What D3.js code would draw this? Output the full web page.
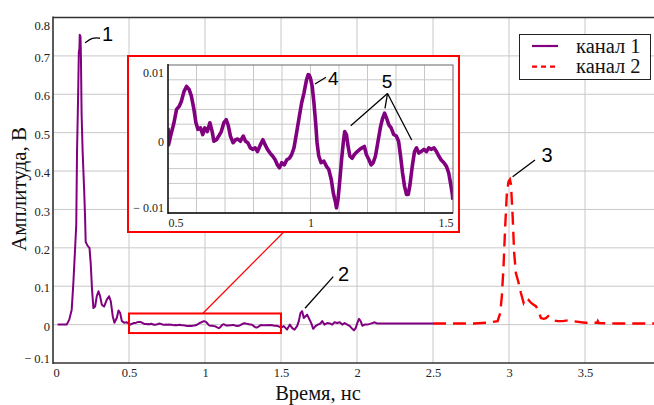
<!DOCTYPE html>
<html><head><meta charset="utf-8">
<script src="https://cdn.jsdelivr.net/npm/d3@7"></script>
<style>body{margin:0;background:#fff}svg{display:block}</style>
</head><body><svg id="c" width="654" height="405"></svg>
<script>
// ---------- data ----------
const xTicks = [0, 0.5, 1, 1.5, 2, 2.5, 3, 3.5];
const xTickLabels = ["0", "0.5", "1", "1.5", "2", "2.5", "3", "3.5"];
const yTicks = [-0.1, 0, 0.1, 0.2, 0.3, 0.4, 0.5, 0.6, 0.7, 0.8];
const yTickLabels = ["\u2212 0.1", "0", "0.1", "0.2", "0.3", "0.4", "0.5", "0.6", "0.7", "0.8"];
const insetXTicks = [0.5, 1, 1.5];
const insetXTickLabels = ["0.5", "1", "1.5"];
const insetYTicks = [-0.01, 0, 0.01];
const insetYTickLabels = ["\u2212 0.01", "0", "0.01"];
const insetXGrid = [0.6, 0.7, 0.8, 0.9, 1.0, 1.1, 1.2, 1.3, 1.4];
const insetYGrid = [-0.008, -0.006, -0.004, -0.002, 0, 0.002, 0.004, 0.006, 0.008];
const seriesNames = ["канал 1", "канал 2"];
const xTitle = "Время, нс";
const yTitle = "Амплитуда, В";

// channel 1 : [time ns, amplitude V]
const ch1 = [
 [0.03,0],[0.09,0],[0.107,0.013],[0.123,0.039],[0.134,0.109],[0.145,0.195],[0.153,0.26],
 [0.158,0.45],[0.165,0.59],[0.17,0.71],[0.174,0.72],[0.176,0.755],[0.181,0.75],[0.184,0.69],
 [0.188,0.55],[0.195,0.45],[0.205,0.35],[0.211,0.28],[0.215,0.215],[0.228,0.205],[0.24,0.2],
 [0.248,0.16],[0.257,0.09],[0.266,0.043],[0.277,0.047],[0.288,0.074],[0.299,0.087],[0.31,0.074],
 [0.321,0.052],[0.336,0.047],[0.354,0.065],[0.369,0.074],[0.38,0.061],[0.393,0.022],[0.404,0.005],
 [0.42,0.018],[0.431,0.037],[0.442,0.03],[0.453,0.009],[0.468,0.005],[0.486,0.006],[0.497,0.003],
 [0.5,0.0015],[0.502,-0.0008],[0.509,0.0004],[0.521,0.0022],[0.53,0.004],[0.539,0.0044],[0.547,0.0051],
 [0.556,0.0064],[0.565,0.0071],[0.574,0.0067],[0.582,0.0058],[0.591,0.004],[0.598,0.0022],[0.605,0.0013],
 [0.614,0.0015],[0.622,0.0006],[0.629,0.0015],[0.638,0.001],[0.647,0.0022],[0.655,0.001],[0.661,-0.0003],
 [0.67,-0.0001],[0.678,0.0004],[0.687,0.001],[0.696,0.0022],[0.704,0.0026],[0.711,0.0019],[0.719,0.0004],
 [0.728,-0.0005],[0.737,-0.0001],[0.745,0],[0.754,-0.0003],[0.764,0.0004],[0.772,-0.0003],[0.78,-0.0005],
 [0.789,-0.0012],[0.798,-0.0014],[0.806,-0.0012],[0.814,-0.0017],[0.824,-0.0008],[0.833,-0.0001],[0.841,-0.0008],
 [0.849,-0.0014],[0.858,-0.0019],[0.867,-0.0023],[0.876,-0.0028],[0.884,-0.0035],[0.891,-0.0039],[0.899,-0.0032],
 [0.908,-0.0035],[0.917,-0.0028],[0.926,-0.0026],[0.934,-0.0021],[0.942,-0.0012],[0.951,0.0008],[0.961,0.0031],
 [0.969,0.0049],[0.977,0.0062],[0.986,0.008],[0.992,0.0087],[0.996,0.0086],[1.0,0.0082],[1.006,0.0071],
 [1.012,0.0049],[1.018,0.0022],[1.023,-0.0005],[1.029,-0.0023],[1.037,-0.0032],[1.047,-0.003],[1.056,-0.0037],
 [1.064,-0.0041],[1.073,-0.0055],[1.08,-0.0073],[1.088,-0.0086],[1.091,-0.0093],[1.097,-0.008],[1.103,-0.0055],
 [1.109,-0.0028],[1.115,-0.0005],[1.12,0.001],[1.126,0.0006],[1.132,-0.001],[1.138,-0.0023],[1.146,-0.0026],
 [1.154,-0.0021],[1.164,-0.0017],[1.173,-0.0014],[1.181,-0.0012],[1.189,-0.001],[1.196,-0.0021],[1.205,-0.0028],
 [1.213,-0.0035],[1.22,-0.0032],[1.228,-0.0023],[1.236,-0.0005],[1.246,0.0017],[1.253,0.0028],[1.26,0.0035],
 [1.267,0.0028],[1.275,0.0019],[1.283,0.0015],[1.292,0.0006],[1.301,0.0004],[1.309,-0.0003],[1.316,-0.0023],
 [1.323,-0.0046],[1.33,-0.0064],[1.337,-0.0075],[1.343,-0.0075],[1.349,-0.0062],[1.357,-0.0037],[1.365,-0.0017],
 [1.372,-0.0012],[1.38,-0.0019],[1.388,-0.0017],[1.398,-0.0014],[1.407,-0.0017],[1.415,-0.0012],[1.423,-0.0014],
 [1.433,-0.0012],[1.442,-0.0017],[1.45,-0.0023],[1.458,-0.0028],[1.468,-0.0032],[1.477,-0.0037],[1.485,-0.0046],
 [1.491,-0.0059],[1.497,-0.0073],[1.5,-0.0082],
 [1.518,-0.004],[1.54,-0.013],[1.558,0],[1.574,-0.009],[1.589,-0.013],[1.606,-0.004],[1.617,0.009],
 [1.628,0.03],[1.639,0.035],[1.65,0.017],[1.661,0.022],[1.672,0.026],[1.683,0.017],[1.699,0.004],
 [1.712,-0.011],[1.727,-0.004],[1.742,0],[1.76,0.003],[1.771,0.009],[1.786,0],[1.804,0.004],
 [1.821,0.003],[1.837,0],[1.852,0.006],[1.87,0.004],[1.887,0.006],[1.903,0],[1.918,0.004],
 [1.936,0],[1.953,-0.004],[1.969,-0.011],[1.98,-0.015],[1.991,-0.009],[2.002,0.004],[2.013,0.015],
 [2.024,0.009],[2.035,-0.003],[2.05,0],[2.068,0],[2.085,0.002],[2.1,0.004],[2.116,0.006],[2.13,0.003],
 [2.5,0.003]
];

// channel 2 : [time ns, amplitude V]
const ch2 = [
 [2.5,0.003],[2.771,0.003],[2.859,0.005],[2.925,0.009],[2.942,0.03],[2.953,0.074],[2.964,0.152],
 [2.975,0.256],[2.986,0.343],[2.997,0.373],[3.006,0.378],[3.013,0.365],[3.024,0.282],[3.034,0.187],
 [3.045,0.135],[3.063,0.109],[3.078,0.083],[3.096,0.057],[3.111,0.07],[3.127,0.065],[3.144,0.057],
 [3.162,0.052],[3.177,0.048],[3.195,0.035],[3.21,0.017],[3.228,0.015],[3.243,0.017],[3.258,0.022],
 [3.276,0.015],[3.294,0.011],[3.32,0.009],[3.353,0.009],[3.386,0.011],[3.419,0.009],[3.5,0.005],
 [3.58,0.005],[3.584,0.009],[3.59,0.004],[3.7,0.003],[3.97,0.003]
];

// zoomed region and annotations (data coordinates)
const zoomRegion = {t0: 0.5, t1: 1.5, v0: -0.022, v1: 0.029};
const connector = [[0.985, 0.029], [1.52, 0.242]];
const mainNotes = [
 {text: "1", line: [[0.2105, 0.734], [0.26, 0.748], [0.309, 0.746]], at: [0.322, 0.739]},
 {text: "2", line: [[1.658, 0.0425], [1.844, 0.125]], at: [1.875, 0.114]},
 {text: "3", line: [[3.024, 0.385], [3.171, 0.429]], at: [3.214, 0.4234]}
];
const insetNotes = [
 {text: "4", lines: [[[1.0158, 0.00743], [1.0544, 0.00834]]], at: [1.061, 0.0073]},
 {text: "5", lines: [[[1.2702, 0.00615], [1.1411, 0.0018]], [[1.2702, 0.00615], [1.2614, 0.00415]],
   [[1.2702, 0.00615], [1.3551, -0.000135]]], at: [1.2498, 0.00685]}
];

// ---------- drawing ----------
const svg = d3.select("#c");
const PURPLE = "#800080", RED = "#ff0000", GRID = "#c8c8c8", SERIF = "'Liberation Serif','Times New Roman',serif";
const SANS = "'Liberation Sans',Arial,sans-serif";

const x = d3.scaleLinear().domain([0, 4]).range([53, 661]);
const y = d3.scaleLinear().domain([-0.1, 0.8]).range([363, 17.5]);
const L = 53, R = 654, T = 17.5, B = 363;

svg.append("defs").append("clipPath").attr("id", "mclip")
  .append("rect").attr("x", L).attr("y", T).attr("width", R - L).attr("height", B - T);

// gridlines
svg.append("g").selectAll("line").data(xTicks.filter(d => d > 0)).join("line")
  .attr("x1", d => x(d)).attr("x2", d => x(d)).attr("y1", T).attr("y2", B)
  .attr("stroke", GRID).attr("stroke-width", 1);
svg.append("g").selectAll("line").data(yTicks.filter(d => d > -0.1 && d < 0.8)).join("line")
  .attr("x1", L).attr("x2", R).attr("y1", d => y(d)).attr("y2", d => y(d))
  .attr("stroke", GRID).attr("stroke-width", 1);

// axes tick labels via d3 axes
const xAxis = d3.axisBottom(x).tickValues(xTicks).tickSize(0)
  .tickFormat((d, i) => xTickLabels[i]);
const gx = svg.append("g").attr("transform", `translate(0,${B})`).call(xAxis);
gx.select(".domain").remove();
gx.selectAll("text").attr("font-family", SERIF).attr("font-size", 12.5).attr("fill", "#222")
  .attr("y", 5).attr("dy", "0.71em")
  .attr("dx", (d, i) => i === 0 ? 3 : 0);

const yAxis = d3.axisLeft(y).tickValues(yTicks).tickSize(0)
  .tickFormat((d, i) => yTickLabels[i]);
const gy = svg.append("g").attr("transform", `translate(${L - 3},0)`).call(yAxis);
gy.select(".domain").remove();
gy.selectAll("text").attr("font-family", SERIF).attr("font-size", 12.5).attr("fill", "#222")
  .attr("x", 0).attr("dy", (d, i) => i === yTicks.length - 1 ? "0.95em" : (i === 0 ? "-0.05em" : "0.45em"));

// frame
svg.append("line").attr("x1", L).attr("x2", L).attr("y1", T - 1).attr("y2", B + 1).attr("stroke", "#333").attr("stroke-width", 1.6);
svg.append("line").attr("x1", L).attr("x2", R).attr("y1", T).attr("y2", T).attr("stroke", "#333").attr("stroke-width", 1.4);
svg.append("line").attr("x1", L).attr("x2", R).attr("y1", B).attr("y2", B).attr("stroke", "#333").attr("stroke-width", 1.4);

// series
const line = d3.line().x(d => x(d[0])).y(d => y(d[1]));
const plot = svg.append("g").attr("clip-path", "url(#mclip)");
plot.append("path").datum(ch1).attr("d", line).attr("fill", "none")
  .attr("stroke", PURPLE).attr("stroke-width", 2).attr("stroke-linejoin", "round");
plot.append("path").datum(ch2).attr("d", line).attr("fill", "none")
  .attr("stroke", RED).attr("stroke-width", 2.4).attr("stroke-dasharray", "13,7");

// zoom region rectangle and connector
svg.append("rect").attr("x", x(zoomRegion.t0)).attr("y", y(zoomRegion.v1))
  .attr("width", x(zoomRegion.t1) - x(zoomRegion.t0)).attr("height", y(zoomRegion.v0) - y(zoomRegion.v1))
  .attr("fill", "none").attr("stroke", RED).attr("stroke-width", 2);
svg.append("line").attr("x1", x(connector[0][0])).attr("y1", y(connector[0][1]))
  .attr("x2", x(connector[1][0])).attr("y2", y(connector[1][1])).attr("stroke", RED).attr("stroke-width", 1.2);

// main annotations
mainNotes.forEach(n => {
  svg.append("path").datum(n.line).attr("d", d3.line().curve(d3.curveBasis).x(d => x(d[0])).y(d => y(d[1])))
    .attr("fill", "none").attr("stroke", "#000").attr("stroke-width", 1.3);
  svg.append("text").attr("x", x(n.at[0])).attr("y", y(n.at[1])).text(n.text)
    .attr("font-family", SANS).attr("font-size", 20).attr("fill", "#000");
});

// ---------- inset ----------
svg.append("rect").attr("x", 128).attr("y", 56).attr("width", 331).attr("height", 176)
  .attr("fill", "#fff").attr("stroke", RED).attr("stroke-width", 2);

const xi = d3.scaleLinear().domain([0.5, 1.5]).range([168, 453]);
const yi = d3.scaleLinear().domain([-0.01, 0.01]).range([213, 65]);
svg.append("defs").append("clipPath").attr("id", "iclip")
  .append("rect").attr("x", 168).attr("y", 65).attr("width", 285).attr("height", 148);

const ig = svg.append("g");
ig.selectAll("line.vx").data(insetXGrid).join("line").attr("class", "vx")
  .attr("x1", d => xi(d)).attr("x2", d => xi(d)).attr("y1", 65).attr("y2", 213)
  .attr("stroke", GRID).attr("stroke-width", 1);
ig.selectAll("line.hy").data(insetYGrid).join("line").attr("class", "hy")
  .attr("x1", 168).attr("x2", 453).attr("y1", d => yi(d)).attr("y2", d => yi(d))
  .attr("stroke", GRID).attr("stroke-width", 1);

const insetData = ch1.filter(d => d[0] >= 0.5 && d[0] <= 1.5);
ig.append("g").attr("clip-path", "url(#iclip)").append("path").datum(insetData)
  .attr("d", d3.line().x(d => xi(d[0])).y(d => yi(d[1])))
  .attr("fill", "none").attr("stroke", PURPLE).attr("stroke-width", 3.6).attr("stroke-linejoin", "round");

ig.append("rect").attr("x", 168).attr("y", 65).attr("width", 285).attr("height", 148)
  .attr("fill", "none").attr("stroke", "#666").attr("stroke-width", 1);
ig.append("line").attr("x1", 168).attr("x2", 168).attr("y1", 64).attr("y2", 214).attr("stroke", "#111").attr("stroke-width", 1.4);
ig.append("line").attr("x1", 168).attr("x2", 453).attr("y1", 213).attr("y2", 213).attr("stroke", "#111").attr("stroke-width", 1.4);

const ixAxis = d3.axisBottom(xi).tickValues(insetXTicks).tickSize(0).tickFormat((d, i) => insetXTickLabels[i]);
const gix = ig.append("g").attr("transform", "translate(0,213)").call(ixAxis);
gix.select(".domain").remove();
gix.selectAll("text").attr("font-family", SERIF).attr("font-size", 12).attr("fill", "#222")
  .attr("y", 5).attr("dy", "0.71em")
  .attr("text-anchor", (d, i) => i === 0 ? "start" : (i === 2 ? "end" : "middle"));

const iyAxis = d3.axisLeft(yi).tickValues(insetYTicks).tickSize(0).tickFormat((d, i) => insetYTickLabels[i]);
const giy = ig.append("g").attr("transform", "translate(164,0)").call(iyAxis);
giy.select(".domain").remove();
giy.selectAll("text").attr("font-family", SERIF).attr("font-size", 12).attr("fill", "#222")
  .attr("x", 0).attr("dy", (d, i) => i === 2 ? "0.95em" : (i === 0 ? "-0.15em" : "0.5em"));

insetNotes.forEach(n => {
  n.lines.forEach(l => ig.append("line").attr("x1", xi(l[0][0])).attr("y1", yi(l[0][1]))
    .attr("x2", xi(l[1][0])).attr("y2", yi(l[1][1])).attr("stroke", "#000").attr("stroke-width", 1.3));
  ig.append("text").attr("x", xi(n.at[0])).attr("y", yi(n.at[1])).text(n.text)
    .attr("font-family", SANS).attr("font-size", 19).attr("fill", "#000");
});

// ---------- legend ----------
const lg = svg.append("g");
lg.append("rect").attr("x", 519.5).attr("y", 34.5).attr("width", 131).attr("height", 45)
  .attr("fill", "#fff").attr("stroke", "#222").attr("stroke-width", 1);
const legStyles = [{c: PURPLE, dash: null, w: 2.2}, {c: RED, dash: "5,4", w: 2.2}];
seriesNames.forEach((name, i) => {
  const yy = 46 + i * 20.7;
  lg.append("line").attr("x1", 532).attr("x2", 558).attr("y1", yy).attr("y2", yy)
    .attr("stroke", legStyles[i].c).attr("stroke-width", legStyles[i].w)
    .attr("stroke-dasharray", legStyles[i].dash);
  lg.append("text").attr("x", 576).attr("y", yy + 6.5).text(name)
    .attr("font-family", SERIF).attr("font-size", 20.5).attr("fill", "#111");
});

// ---------- titles ----------
svg.append("text").attr("x", (x(0) + x(4)) / 2 - 39).attr("y", 399.5).attr("text-anchor", "middle")
  .text(xTitle).attr("font-family", SERIF).attr("font-size", 20.5).attr("fill", "#111");
svg.append("text").attr("transform", "translate(26,189) rotate(-90)").attr("text-anchor", "middle")
  .text(yTitle).attr("font-family", SERIF).attr("font-size", 21).attr("fill", "#111");
</script></body></html>
